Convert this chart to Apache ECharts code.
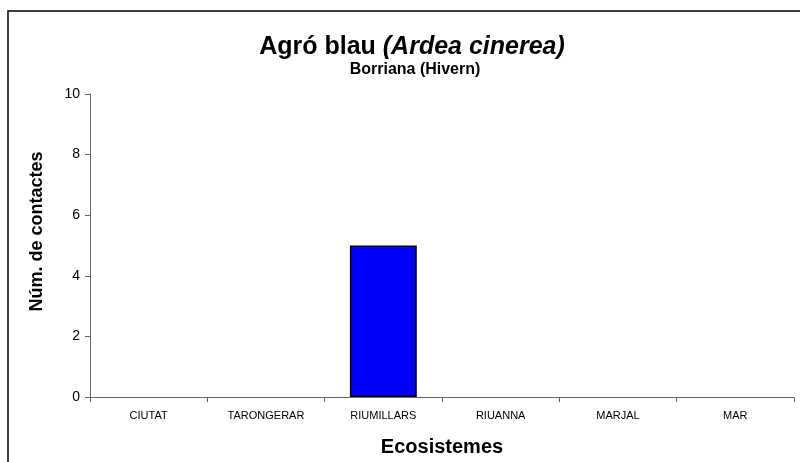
<!DOCTYPE html>
<html>
<head>
<meta charset="utf-8">
<script src="https://cdn.jsdelivr.net/npm/echarts@6/dist/echarts.min.js"></script>
<style>
  html, body { margin: 0; padding: 0; background: #fff; }
  #chart { width: 800px; height: 462px; }
</style>
</head>
<body>
<div id="chart"></div>
<script>
// dades del gràfic
const categories = ['CIUTAT', 'TARONGERAR', 'RIUMILLARS', 'RIUANNA', 'MARJAL', 'MAR'];
const contactes = [0, 0, 5, 0, 0, 0];
const yTicks = { min: 0, max: 10, interval: 2 };

const FONT = 'Liberation Sans, Arial, sans-serif';
const chart = echarts.init(document.getElementById('chart'));

// les barres a zero no es dibuixen (sense vora)
const barData = contactes.map(v => (v === 0 ? { value: v, itemStyle: { borderWidth: 0 } } : v));

const option = {
  animation: false,
  backgroundColor: '#fff',
  graphic: [
    {
      type: 'rect',
      shape: { x: 8, y: 11, width: 810, height: 470 },
      style: { fill: 'none', stroke: '#000', lineWidth: 1.5 },
      silent: true,
    },
  ],
  title: [
    {
      text: '{a|Agró blau }{b|(Ardea cinerea)}',
      left: 407,
      top: 30,
      textAlign: 'center',
      textStyle: {
        rich: {
          a: { fontFamily: FONT, fontSize: 25, fontWeight: 'bold', color: '#000' },
          b: { fontFamily: FONT, fontSize: 25, fontWeight: 'bold', fontStyle: 'italic', color: '#000' },
        },
      },
    },
    {
      text: 'Borriana (Hivern)',
      left: 410,
      top: 57,
      textAlign: 'center',
      textStyle: { fontFamily: FONT, fontSize: 16, fontWeight: 'bold', color: '#000' },
    },
  ],
  grid: { left: 90, right: 6, top: 94, bottom: 64 },
  xAxis: {
    type: 'category',
    data: categories,
    name: 'Ecosistemes',
    nameLocation: 'middle',
    nameGap: 40,
    nameTextStyle: { fontFamily: FONT, fontSize: 20, fontWeight: 'bold', color: '#000' },
    axisLine: { lineStyle: { color: '#666', width: 1 } },
    axisTick: { show: true, inside: false, length: 5, lineStyle: { color: '#666' } },
    axisLabel: { fontFamily: FONT, fontSize: 11, color: '#000', margin: 13, interval: 0 },
  },
  yAxis: {
    type: 'value',
    min: yTicks.min,
    max: yTicks.max,
    interval: yTicks.interval,
    name: 'Núm. de contactes',
    nameLocation: 'middle',
    nameGap: 44,
    nameTextStyle: { fontFamily: FONT, fontSize: 18, fontWeight: 'bold', color: '#000', padding: [0, 0, 0, 28] },
    axisLine: { show: true, lineStyle: { color: '#666', width: 1 } },
    axisTick: { show: true, inside: false, length: 5, lineStyle: { color: '#666' } },
    axisLabel: { fontFamily: FONT, fontSize: 14, color: '#000', margin: 10 },
    splitLine: { show: false },
  },
  series: [
    {
      type: 'bar',
      data: barData,
      barWidth: '57%',
      itemStyle: { color: '#0000ff', borderColor: '#000', borderWidth: 1.5 },
    },
  ],
};

chart.setOption(option);
</script>
</body>
</html>
